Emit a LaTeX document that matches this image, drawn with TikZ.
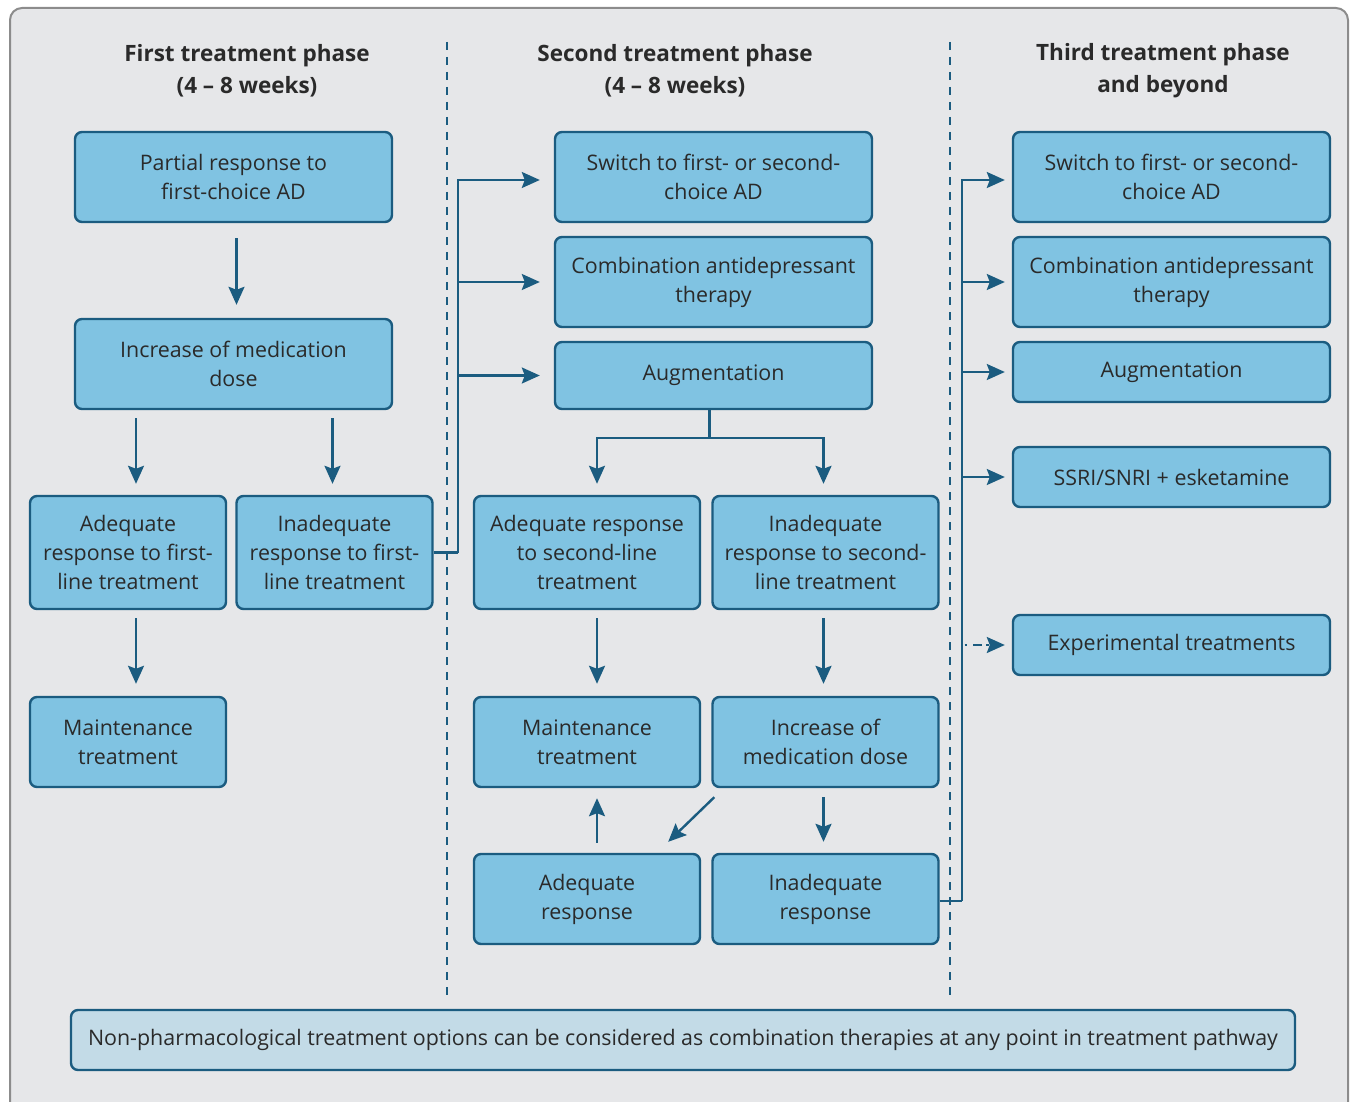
\documentclass[tikz,border=0pt]{standalone}
\usepackage{fontspec}
\setmainfont{Open Sans}
\usetikzlibrary{arrows.meta}
\definecolor{panelgray}{HTML}{E6E7E9}
\definecolor{framegray}{HTML}{8C8C8C}
\definecolor{boxblue}{HTML}{80C3E2}
\definecolor{edgeblue}{HTML}{1B5C80}
\definecolor{noteblue}{HTML}{C3DBE7}
\definecolor{inkgray}{HTML}{2A2A2A}
\tikzset{
  stepbox/.style={draw=edgeblue, line width=2.4pt, fill=boxblue, rounded corners=7pt,
    text=inkgray, align=center, inner sep=0pt, font=\fontsize{21.4}{29}\selectfont},
  notebox/.style={stepbox, fill=noteblue},
  phase/.style={text=inkgray, align=center, font=\bfseries\fontsize{22.5}{32}\selectfont},
  link/.style={draw=edgeblue, line width=2.4pt},
  flow/.style={link, -{Stealth[length=18pt,width=16pt,inset=3pt]}},
  divider/.style={draw=edgeblue, line width=2.2pt, dash pattern=on 8pt off 7pt}
}
\begin{document}
\begin{tikzpicture}[x=1pt,y=-1pt]
\useasboundingbox (0,0) rectangle (1354,1102);
\clip (0,0) rectangle (1354,1102);
\draw [framegray, line width=2pt, rounded corners=12pt, fill=panelgray] (10,8) rectangle (1348,1140);
\draw [divider] (447,42) -- (447,1000);
\draw [divider] (950,42) -- (950,1000);

\node [phase] (head1) at (247,71) {First treatment phase\\(4 – 8 weeks)};
\node [phase] (head2) at (675,71) {Second treatment phase\\(4 – 8 weeks)};
\node [phase] (head3) at (1163,71) {Third treatment phase\\and beyond};

\node [stepbox, minimum width=317, minimum height=90] (partial) at (233.5,177) {Partial response to\\first-choice AD};
\node [stepbox, minimum width=317, minimum height=90] (incr1) at (233.5,364) {Increase of medication\\dose};
\node [stepbox, minimum width=196, minimum height=113] (adq1) at (128,552.5) {Adequate\\response to first-\\line treatment};
\node [stepbox, minimum width=196, minimum height=113] (inadq1) at (334.5,552.5) {Inadequate\\response to first-\\line treatment};
\node [stepbox, minimum width=196, minimum height=90] (maint1) at (128,742) {Maintenance\\treatment};

\node [stepbox, minimum width=317, minimum height=90] (switch2) at (713.5,177) {Switch to first- or second-\\choice AD};
\node [stepbox, minimum width=317, minimum height=90] (combo2) at (713.5,282) {Combination antidepressant\\therapy};
\node [stepbox, minimum width=317, minimum height=67] (aug2) at (713.5,375.5) {Augmentation};
\node [stepbox, minimum width=226, minimum height=113] (adq2) at (587,552.5) {Adequate response\\to second-line\\treatment};
\node [stepbox, minimum width=226, minimum height=113] (inadq2) at (825.5,552.5) {Inadequate\\response to second-\\line treatment};
\node [stepbox, minimum width=226, minimum height=90] (maint2) at (587,742) {Maintenance\\treatment};
\node [stepbox, minimum width=226, minimum height=90] (incr2) at (825.5,742) {Increase of\\medication dose};
\node [stepbox, minimum width=226, minimum height=90] (adqr) at (587,899) {Adequate\\response};
\node [stepbox, minimum width=226, minimum height=90] (inadqr) at (825.5,899) {Inadequate\\response};

\node [stepbox, minimum width=317, minimum height=90] (switch3) at (1171.5,177) {Switch to first- or second-\\choice AD};
\node [stepbox, minimum width=317, minimum height=90] (combo3) at (1171.5,282) {Combination antidepressant\\therapy};
\node [stepbox, minimum width=317, minimum height=60] (aug3) at (1171.5,372) {Augmentation};
\node [stepbox, minimum width=317, minimum height=60] (ssri) at (1171.5,477) {SSRI/SNRI + esketamine};
\node [stepbox, minimum width=317, minimum height=60] (exper) at (1171.5,645) {Experimental treatments};

\node [notebox, minimum width=1224, minimum height=60] (note) at (683,1040) {Non-pharmacological treatment options can be considered as combination therapies at any point in treatment pathway};

\draw [flow, shorten <=15pt, shorten >=13pt] ([xshift=3]partial.south) -- ([xshift=3]incr1.north);
\draw [flow, shorten <=8pt, shorten >=11pt] ([xshift=8]incr1.south -| adq1) -- ([xshift=8]adq1.north);
\draw [flow, shorten <=8pt, shorten >=11pt] ([xshift=-2]incr1.south -| inadq1) -- ([xshift=-2]inadq1.north);
\draw [flow, shorten <=8pt, shorten >=12pt] ([xshift=8]adq1.south) -- ([xshift=8]maint1.north);

\draw [link] (inadq1.east) -- ++(24,0) coordinate (busA);
\draw [flow, shorten >=14pt] (busA) |- ([yshift=-3]switch2.west);
\draw [flow, shorten >=14pt] (busA |- combo2.west) -- (combo2.west);
\draw [flow, shorten >=14pt] (busA |- aug2.west) -- (aug2.west);

\draw [link] ([xshift=-4]aug2.south) -- ++(0,28) coordinate (splitB);
\draw [flow, shorten >=11pt] (splitB) -| ([xshift=10]adq2.north);
\draw [flow, shorten >=11pt] (splitB) -| ([xshift=-2]inadq2.north);
\draw [flow, shorten <=8pt, shorten >=12pt] ([xshift=10]adq2.south) -- ([xshift=10]maint2.north);
\draw [flow, shorten <=8pt, shorten >=12pt] ([xshift=-2]inadq2.south) -- ([xshift=-2]incr2.north);
\draw [flow, shorten <=10pt, shorten >=10pt] ([xshift=10]adqr.north) -- ([xshift=10]maint2.south);
\draw [flow] ([shift={(3,9)}]incr2.south west) -- ([shift={(-33,-11)}]adqr.north east);
\draw [flow, shorten <=9pt, shorten >=11pt] ([xshift=-2]incr2.south) -- ([xshift=-2]inadqr.north);

\draw [link] ([yshift=-2]inadqr.east) -- ++(22,0) coordinate (busC);
\draw [flow, shorten >=7pt] (busC) |- ([yshift=-3]switch3.west);
\draw [flow, shorten >=7pt] (busC |- combo3.west) -- (combo3.west);
\draw [flow, shorten >=7pt] (busC |- aug3.west) -- (aug3.west);
\draw [flow, shorten >=7pt] (busC |- ssri.west) -- (ssri.west);
\draw [flow, shorten <=3pt, shorten >=7pt, dash pattern=on 2.5pt off 6pt on 9pt off 4pt] (busC |- exper.west) -- (exper.west);
\end{tikzpicture}
\end{document}
